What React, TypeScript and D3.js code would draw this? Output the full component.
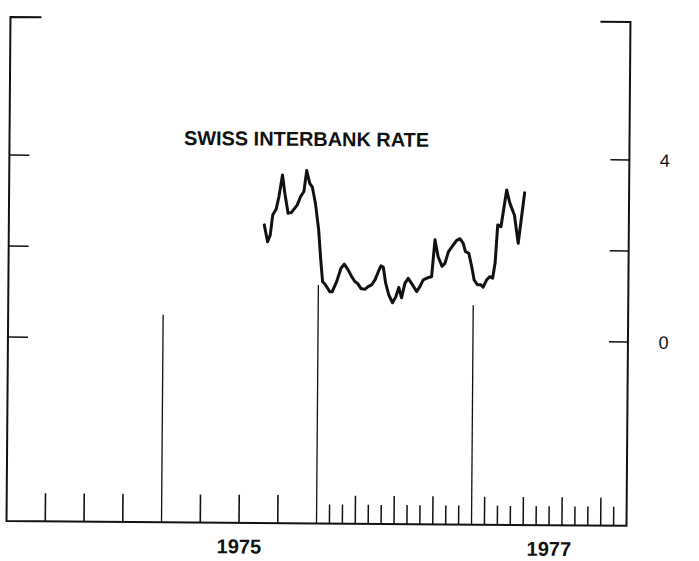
import * as d3 from 'd3';

// weekly-ish readings, decimal years
const dates = [
  1975.648, 1975.670, 1975.687, 1975.702, 1975.724, 1975.741, 1975.763, 1975.779, 1975.801, 1975.823,
  1975.859, 1975.881, 1975.902, 1975.919, 1975.939, 1975.956, 1975.977, 1975.999, 1976.014, 1976.027,
  1976.042, 1976.074, 1976.089, 1976.117, 1976.145, 1976.166, 1976.192, 1976.214, 1976.235, 1976.253,
  1976.274, 1976.300, 1976.321, 1976.343, 1976.365, 1976.386, 1976.403, 1976.418, 1976.434, 1976.455,
  1976.479, 1976.500, 1976.519, 1976.537, 1976.558, 1976.579, 1976.601, 1976.634, 1976.655, 1976.676,
  1976.708, 1976.730, 1976.750, 1976.771, 1976.797, 1976.816, 1976.837, 1976.859, 1976.889, 1976.911,
  1976.932, 1976.947, 1976.969, 1976.988, 1977.005, 1977.027, 1977.048, 1977.063, 1977.085, 1977.106,
  1977.124, 1977.139, 1977.154, 1977.175, 1977.210, 1977.231, 1977.261, 1977.287, 1977.305, 1977.326,
];
const rate = [
  2.51, 2.14, 2.29, 2.73, 2.86, 3.13, 3.61, 3.21, 2.77, 2.79,
  2.95, 3.14, 3.25, 3.71, 3.43, 3.35, 2.99, 2.41, 1.75, 1.27,
  1.22, 1.05, 1.05, 1.27, 1.57, 1.66, 1.53, 1.39, 1.28, 1.24,
  1.13, 1.11, 1.17, 1.21, 1.32, 1.50, 1.63, 1.60, 1.25, 0.99,
  0.82, 0.95, 1.16, 0.93, 1.25, 1.36, 1.25, 1.07, 1.18, 1.33,
  1.38, 1.40, 2.21, 1.84, 1.63, 1.70, 1.95, 2.06, 2.20, 2.24,
  2.14, 1.96, 1.92, 1.63, 1.33, 1.23, 1.23, 1.18, 1.34, 1.41,
  1.38, 1.71, 2.55, 2.51, 3.32, 3.03, 2.77, 2.15, 2.66, 3.26,
];

const yTicks = [4, 2, 0];
const yLabels = ['4', '0'];
const yearLabels = [1975, 1977];
// year divider lines and how high they reach (in rate units)
const yearLines = [1975, 1976, 1977];
const yearLineTops = [0.52, 1.2, 0.78];
const title = 'SWISS INTERBANK RATE';

const W = 699;
const H = 561;
const left = 8.5;
const right = 628.5;
const top = 19.5;
const bottom = 523.4;

export default function App() {
  const x = d3.scaleLinear().domain([1974, 1978]).range([left, right]);
  const y = d3.scaleLinear().domain([0, 4]).range([339.5, 157.5]);

  const line = d3.line<number>()
    .x((d, i) => x(dates[i]))
    .y((d) => y(d));

  // quarterly ticks for 1974-75, monthly after
  const quarterTicks = d3.range(1974.25, 1976, 0.25).filter((t) => !yearLines.includes(t));
  const monthTicks = d3.range(1, 24)
    .map((m) => 1976 + m / 12)
    .filter((t) => Math.abs(t - 1977) > 1e-6);

  const font = '"Liberation Sans", Arial, Helvetica, sans-serif';

  return (
    <svg width={W} height={H} style={{ position: 'absolute', left: 0, top: 0, background: '#fff' }}>
      <g transform="rotate(0.45 318 270)" stroke="#111" fill="none">
        {/* frame */}
        <path d={`M${left + 31},${top}H${left}V${bottom}H${right}V${top}H${right - 30}`} strokeWidth={2} />

        {yTicks.map((t) => (
          <g key={t}>
            <line x1={left} x2={left + 20} y1={y(t)} y2={y(t)} strokeWidth={1.6} />
            <line x1={right - 19} x2={right} y1={y(t)} y2={y(t)} strokeWidth={1.6} />
          </g>
        ))}

        {quarterTicks.map((t) => (
          <line key={t} x1={x(t)} x2={x(t)} y1={bottom} y2={bottom - 28} strokeWidth={1.6} />
        ))}
        {monthTicks.map((t, i) => {
          const quarter = (i + 1) % 3 === 0;
          return (
            <line key={t} x1={x(t)} x2={x(t)} y1={bottom} y2={bottom - (quarter ? 28 : 19)} strokeWidth={1.5} />
          );
        })}

        {yearLines.map((t, i) => (
          <line key={t} x1={x(t)} x2={x(t)} y1={bottom} y2={y(yearLineTops[i])} strokeWidth={1.3} />
        ))}

        <path d={line(rate) || ''} strokeWidth={3} strokeLinejoin="round" strokeLinecap="round" />

        <text
          x={305.5}
          y={146}
          textAnchor="middle"
          textLength={245}
          lengthAdjust="spacingAndGlyphs"
          fontFamily={font}
          fontWeight="bold"
          fontSize={20}
          fill="#111"
          stroke="none"
        >
          {title}
        </text>

        {yLabels.map((l) => (
          <text
            key={l}
            x={664}
            y={y(+l)}
            dy="0.36em"
            textAnchor="middle"
            fontFamily={font}
            fontSize={18}
            fill="#111"
            stroke="none"
          >
            {l}
          </text>
        ))}

        {yearLabels.map((yr) => (
          <text
            key={yr}
            x={x(yr + 0.5)}
            y={554}
            textAnchor="middle"
            fontFamily={font}
            fontWeight="bold"
            fontSize={20}
            fill="#111"
            stroke="none"
          >
            {yr}
          </text>
        ))}
      </g>
    </svg>
  );
}
